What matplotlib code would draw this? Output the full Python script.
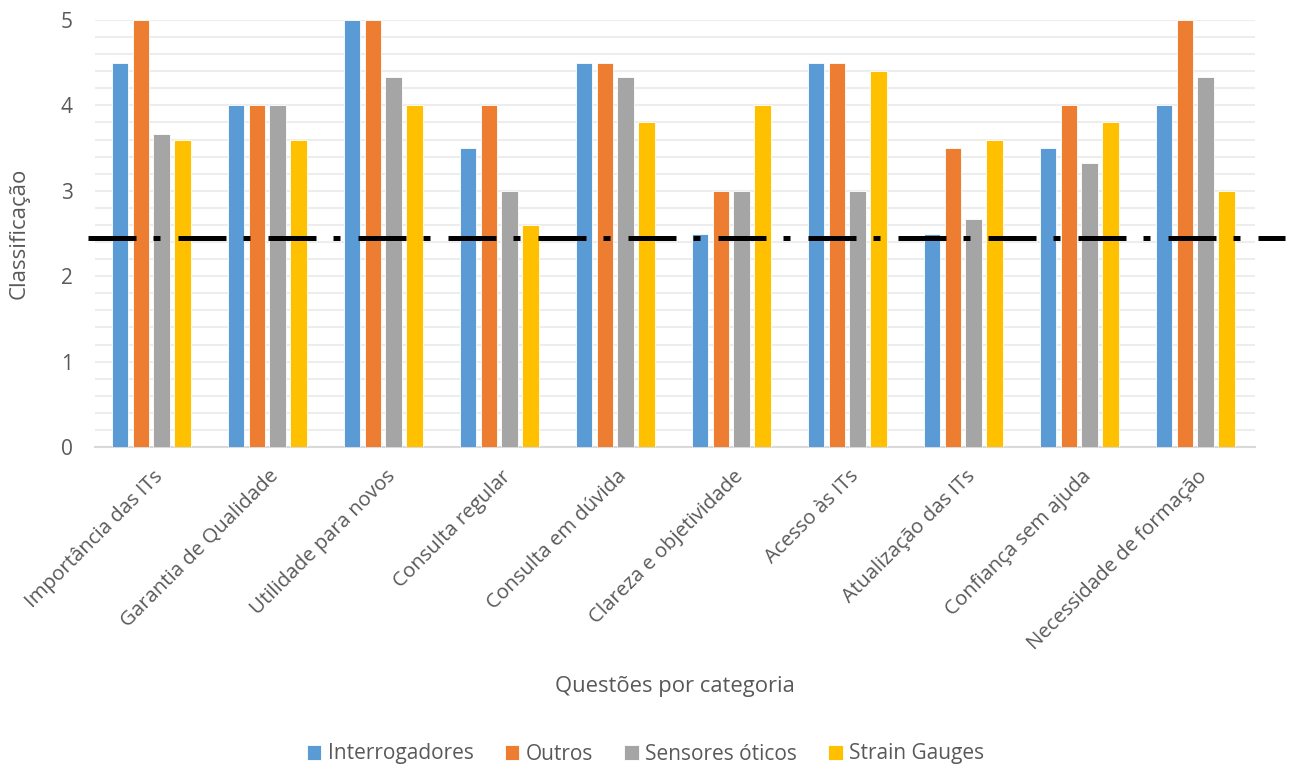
import numpy as np
import matplotlib.pyplot as plt

plt.rcParams['font.family'] = ['Open Sans', 'DejaVu Sans']

# dados
categorias = ['Importância das ITs', 'Garantia de Qualidade', 'Utilidade para novos',
              'Consulta regular', 'Consulta em dúvida', 'Clareza e objetividade',
              'Acesso às ITs', 'Atualização das ITs', 'Confiança sem ajuda',
              'Necessidade de formação']
interrogadores = [4.5, 4.0, 5.0, 3.5, 4.5, 2.5, 4.5, 2.5, 3.5, 4.0]
outros = [5.0, 4.0, 5.0, 4.0, 4.5, 3.0, 4.5, 3.5, 4.0, 5.0]
sensores_oticos = [3.67, 4.0, 4.33, 3.0, 4.33, 3.0, 3.0, 2.67, 3.33, 4.33]
strain_gauges = [3.6, 3.6, 4.0, 2.6, 3.8, 4.0, 4.4, 3.6, 3.8, 3.0]
limiar = 2.45

series = [('Interrogadores', interrogadores, '#5B9BD5'),
          ('Outros', outros, '#ED7D31'),
          ('Sensores óticos', sensores_oticos, '#A5A5A5'),
          ('Strain Gauges', strain_gauges, '#FFC000')]

texto = '#595959'

fig = plt.figure(figsize=(12.91, 7.67), dpi=100)
ax = fig.add_axes([95 / 1291, 1 - 447 / 767, 1160 / 1291, 427 / 767])

x = np.arange(len(categorias))
passo = 0.181
largura = 0.14
for i, (nome, valores, cor) in enumerate(series):
    ax.bar(x + (i - 1.7) * passo + 0.02, valores, largura, color=cor, label=nome,
           edgecolor='white', linewidth=0.6, zorder=3)

# linha de referência (traço-ponto)
ax.axhline(limiar, xmin=-0.006, xmax=1.026, color='black', linewidth=3.6,
           dashes=(9.6, 3.4, 1.4, 3.6), clip_on=False, zorder=4)

ax.set_xlim(-0.5, len(categorias) - 0.5)
ax.set_ylim(0, 5)
ax.set_yticks(range(6))
ax.set_yticks(np.arange(0, 5.01, 0.2), minor=True)
ax.grid(axis='y', which='both', color='#EDEDED', linewidth=1.5, zorder=0)
ax.tick_params(axis='y', which='both', length=0, labelsize=15, labelcolor=texto, pad=16)
ax.tick_params(axis='x', length=0, labelsize=14.7, labelcolor=texto, pad=14)
ax.set_xticks(x)
ax.set_xticklabels(categorias, rotation=45, ha='right', rotation_mode='anchor')

for lado in ['top', 'right', 'left']:
    ax.spines[lado].set_visible(False)
ax.spines['bottom'].set_color('#D9D9D9')
ax.spines['bottom'].set_linewidth(1.5)

ax.set_xlabel('Questões por categoria', fontsize=15.8, color=texto)
ax.xaxis.set_label_coords(0.5, -0.536)
ax.set_ylabel('Classificação', fontsize=16, color=texto)
ax.yaxis.set_label_coords(-0.056, 0.5)

fig.legend(loc='center', bbox_to_anchor=(0.5, 1 - 754 / 767), ncol=4, frameon=False,
           fontsize=15, labelcolor=texto, handlelength=0.7, handleheight=0.7,
           handletextpad=0.3, columnspacing=1.5)

fig.savefig('out.png', dpi=100)
